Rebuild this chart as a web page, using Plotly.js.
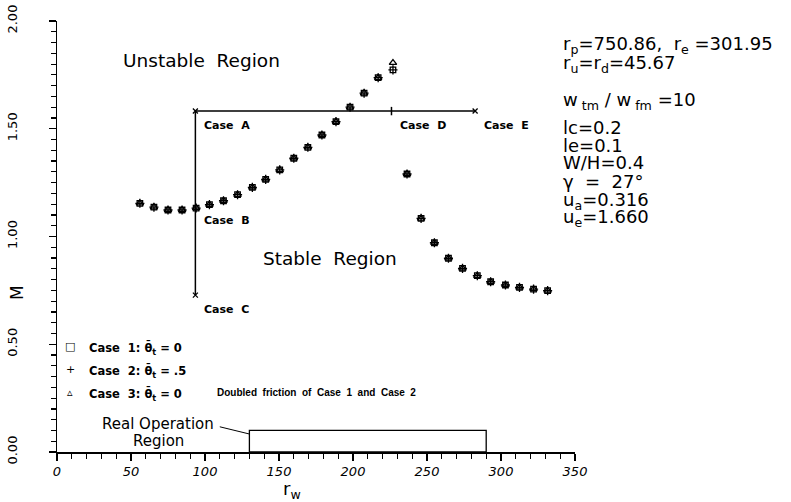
<!DOCTYPE html>
<html>
<head>
<meta charset="utf-8">
<script src="https://cdn.plot.ly/plotly-3.0.1.min.js"></script>
<style>html,body{margin:0;padding:0;background:#fff}</style>
</head>
<body>
<div id="chart" style="width:791px;height:502px"></div>
<script>
// wheel radius r_w and stability index M for the three cases
const rw = [56, 65.5, 75, 84.5, 94, 103, 112.5, 122, 132, 141, 150.5, 160, 169.5, 179, 188.5,
            198, 207.5, 217, 227, 236.5, 246, 255, 264.5, 274, 284, 293, 303, 312.5, 322, 331.5];
const mCase1 = [1.154, 1.136, 1.123, 1.123, 1.132, 1.148, 1.166, 1.194, 1.228, 1.265, 1.309, 1.363, 1.414, 1.471, 1.533,
                1.600, 1.665, 1.737, 1.773, 1.290, 1.084, 0.971, 0.899, 0.852, 0.818, 0.790, 0.775, 0.764, 0.756, 0.749];
const mCase2 = [1.154, 1.136, 1.123, 1.123, 1.132, 1.148, 1.166, 1.194, 1.228, 1.265, 1.309, 1.363, 1.414, 1.471, 1.533,
                1.600, 1.665, 1.737, 1.773, 1.290, 1.084, 0.971, 0.899, 0.852, 0.818, 0.790, 0.775, 0.764, 0.756, 0.749];
const mCase3 = [1.154, 1.136, 1.123, 1.123, 1.132, 1.148, 1.166, 1.194, 1.228, 1.265, 1.309, 1.363, 1.414, 1.471, 1.533,
                1.600, 1.665, 1.737, 1.806, 1.290, 1.084, 0.971, 0.899, 0.852, 0.818, 0.790, 0.775, 0.764, 0.756, 0.749];

// stability boundary: Case C -> Case A (vertical), Case A -> Case E (horizontal)
const caseNames = ['Case  A', 'Case  B', 'Case  C', 'Case  D', 'Case  E'];
const caseR = [93.5, 93.5, 93.5, 226, 282.5];
const caseM = [1.582, 1.132, 0.728, 1.582, 1.582];

// real operation region
const opRegionR = [130, 290];
const opRegionM = [0, 0.1];

const xTickStep = 50, xMinorStep = 10;
const yTickStep = 0.5, yMinorStep = 0.05;

const paramLines = [
  'r<sub>p</sub>=750.86,  r<sub>e</sub> =301.95',
  'r<sub>u</sub>=r<sub>d</sub>=45.67',
  'w<sub> tm</sub> / w<sub> fm</sub> =10',
  'lc=0.2',
  'le=0.1',
  'W/H=0.4',
  'γ  =  27°',
  'u<sub>a</sub>=0.316',
  'u<sub>e</sub>=1.660'
];
const legendSymbols = ['□', '+', '▵'];
const legendTexts = [
  'Case  1: θ̄<sub>t</sub> = 0',
  'Case  2: θ̄<sub>t</sub> = .5',
  'Case  3: θ̄<sub>t</sub> = 0'
];
const frictionNote = 'Doubled  friction  of  Case  1  and  Case  2';

// page layout helpers (pixel -> paper fraction)
const L = 57, R = 216, T = 21, B = 50, W = 791, H = 502;
const PW = W - L - R, PH = H - T - B;
const px = x => (x - L) / PW;
const py = y => (H - B - y) / PH;

const FONT = 'DejaVu Sans, sans-serif';
const NARROW = 'Liberation Sans, Arial, sans-serif';
const mk = (sym, size) => ({symbol: sym, size: size, color: '#000', line: {color: '#000', width: 1.3}});

const traces = [
  {x: rw, y: mCase1, mode: 'markers', type: 'scatter', name: 'Case 1', marker: mk('square-open', 5.5), cliponaxis: false},
  {x: rw, y: mCase2, mode: 'markers', type: 'scatter', name: 'Case 2', marker: mk('cross-thin-open', 6.5), cliponaxis: false},
  {x: rw, y: mCase3, mode: 'markers', type: 'scatter', name: 'Case 3', marker: mk('triangle-up-open', 6.5), cliponaxis: false},
  {
    x: [caseR[2], caseR[0], caseR[4]], y: [caseM[2], caseM[0], caseM[4]],
    mode: 'lines', type: 'scatter', line: {color: '#000', width: 1.5}, hoverinfo: 'skip'
  },
  {
    x: [caseR[0], caseR[2], caseR[4]], y: [caseM[0], caseM[2], caseM[4]],
    mode: 'markers', type: 'scatter', marker: {symbol: 'x-thin-open', size: 5, color: '#000', line: {color: '#000', width: 1.3}}
  },
  {
    x: [caseR[3]], y: [caseM[3]],
    mode: 'markers', type: 'scatter', marker: {symbol: 'line-ns-open', size: 6, color: '#000', line: {color: '#000', width: 1.5}}
  }
];

const ann = [];
const txt = (x, y, text, size, opts) => Object.assign({
  xref: 'paper', yref: 'paper', x: px(x), y: py(y), text: text, showarrow: false,
  xanchor: 'left', yanchor: 'middle', font: {family: FONT, size: size, color: '#000'}
}, opts || {});

ann.push(txt(121, 60, 'Unstable  Region', 18.5));
ann.push(txt(261, 258, 'Stable  Region', 18.5));

caseNames.forEach((n, i) => ann.push({
  xref: 'x', yref: 'y', x: caseR[i], y: caseM[i], text: n, showarrow: false,
  xanchor: 'left', yanchor: 'middle', xshift: 7, yshift: (i === 1 ? -12 : -14),
  font: {family: FONT, size: 11, color: '#000', weight: 'bold'}
}));

const paramY = [45, 64, 101, 127, 145, 162, 181, 201, 218];
paramLines.forEach((t, i) => ann.push(txt(561, paramY[i], t, 18)));

const legY = [346, 369, 392];
legendSymbols.forEach((s, i) => ann.push(txt(70, legY[i], s, 11, {xanchor: 'center'})));
legendTexts.forEach((t, i) => ann.push(txt(87, legY[i] + 2, t, 11.5,
  {font: {family: FONT, size: 11.5, color: '#000', weight: 'bold'}})));
ann.push(txt(215, 392, frictionNote, 10, {font: {family: NARROW, size: 10, color: '#000', weight: 'bold'}}));

ann.push(txt(158, 424, 'Real Operation', 15, {xanchor: 'center'}));
ann.push(txt(158, 441, 'Region', 15, {xanchor: 'center'}));

ann.push(txt(17, 293, 'M', 17, {xanchor: 'center', textangle: -90}));
ann.push(txt(292, 490, 'r<sub>w</sub>', 18, {xanchor: 'center'}));

const layout = {
  width: W, height: H,
  margin: {l: L, r: R, t: T, b: B, pad: 0},
  paper_bgcolor: '#fff', plot_bgcolor: '#fff',
  showlegend: false,
  font: {family: FONT, color: '#000'},
  xaxis: {
    range: [0, 350], showgrid: false, zeroline: false,
    showline: true, linecolor: '#000', linewidth: 1.5,
    tickmode: 'linear', tick0: 0, dtick: xTickStep,
    ticks: 'outside', ticklen: 7, tickwidth: 1.4, tickcolor: '#000',
    minor: {tick0: 0, dtick: xMinorStep, ticks: 'outside', ticklen: 5, tickwidth: 1.2, tickcolor: '#000', showgrid: false},
    tickfont: {family: FONT, size: 13, style: 'italic', color: '#000'}
  },
  yaxis: {
    range: [0, 2], showgrid: false, zeroline: false,
    showline: true, linecolor: '#000', linewidth: 1.5,
    tickmode: 'linear', tick0: 0, dtick: yTickStep, tickformat: '.2f',
    ticks: 'outside', ticklen: 7, tickwidth: 1.4, tickcolor: '#000',
    minor: {tick0: 0, dtick: yMinorStep, ticks: 'outside', ticklen: 5, tickwidth: 1.2, tickcolor: '#000', showgrid: false},
    tickangle: -90, ticklabelstandoff: 26,
    tickfont: {family: FONT, size: 13, color: '#000'}
  },
  shapes: [
    {type: 'rect', xref: 'x', yref: 'y', x0: opRegionR[0], x1: opRegionR[1], y0: opRegionM[0], y1: opRegionM[1],
     line: {color: '#000', width: 1.3}},
    {type: 'line', xref: 'x', yref: 'y', x0: 110, y0: 0.117, x1: opRegionR[0], y1: 0.0835,
     line: {color: '#000', width: 1}}
  ],
  annotations: ann
};

Plotly.newPlot('chart', traces, layout, {displayModeBar: false, staticPlot: true});
</script>
</body>
</html>
